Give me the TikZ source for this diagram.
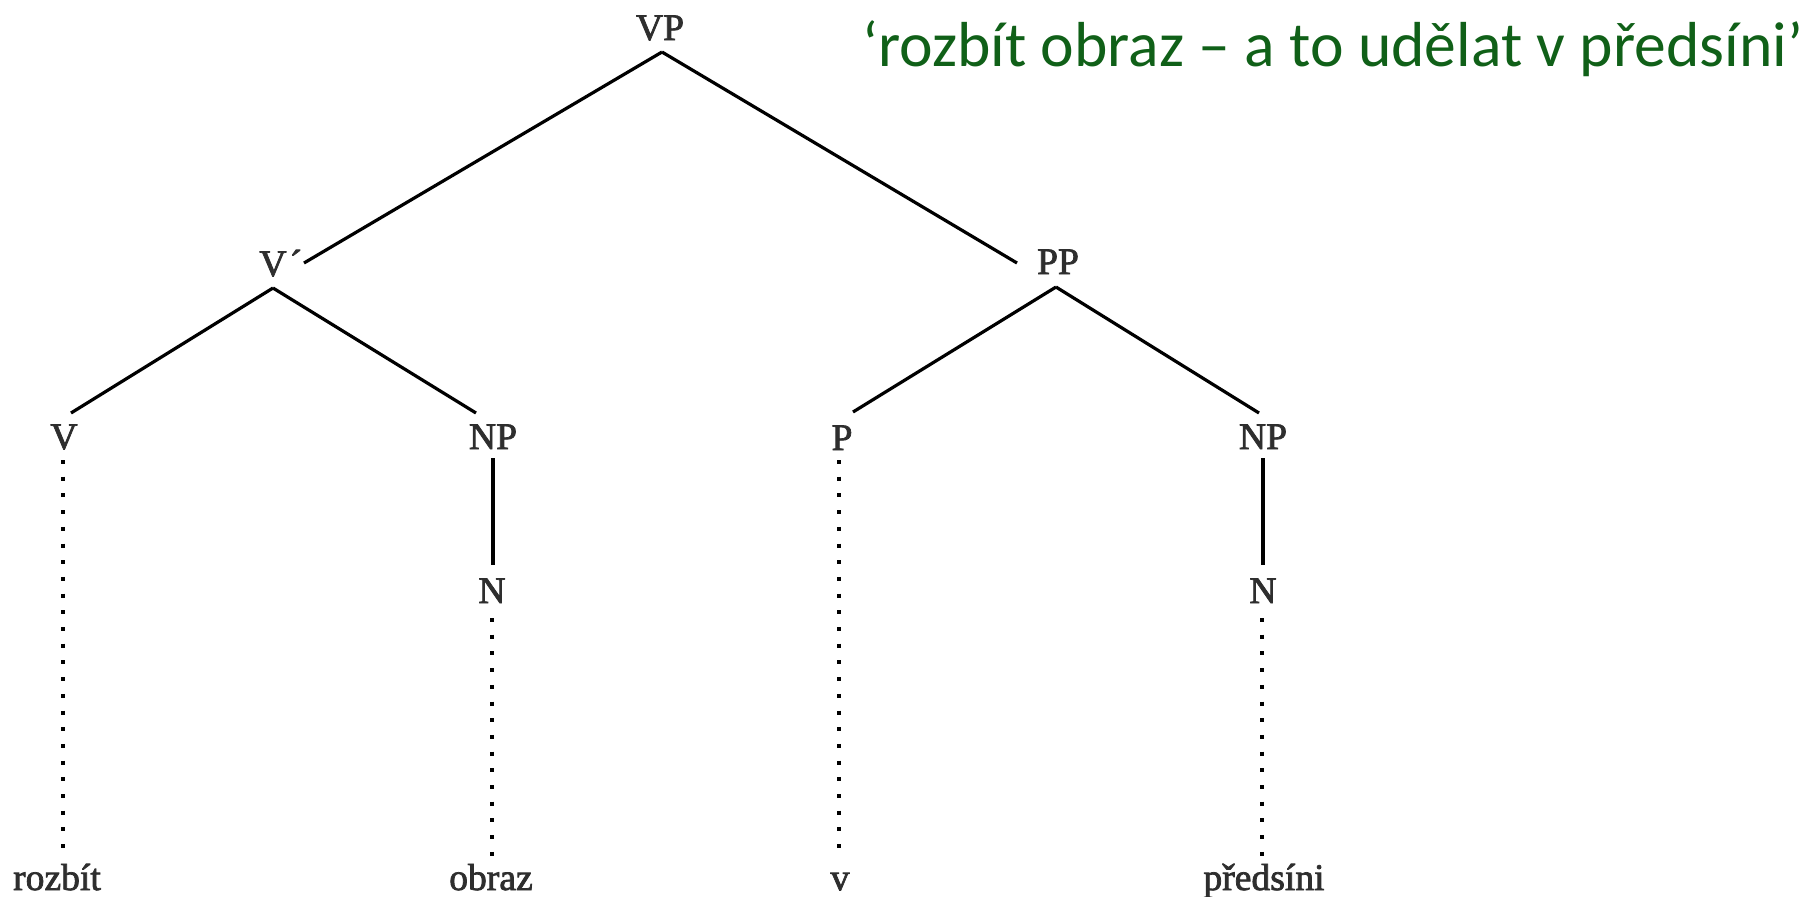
\documentclass[tikz,border=0pt]{standalone}
\usepackage{fontspec}
\setmainfont{Liberation Serif}
\newfontfamily\catfont{Liberation Serif}[FakeBold=2]
\newfontfamily\titlefont{Carlito}
\usetikzlibrary{calc}
\definecolor{labelgray}{HTML}{2E2E2E}
\definecolor{titlegreen}{RGB}{16,96,24}
\tikzset{
  cat/.style={inner sep=0pt, anchor=base, text=labelgray, font=\catfont\fontsize{18.8}{22}\selectfont},
  branch/.style={line width=1.6pt, black},
  dotline/.style={line width=1.7pt, black, dash pattern=on 2pt off 6.35pt},
}
\begin{document}
\begin{tikzpicture}[x=0.5pt, y=-0.5pt]
\useasboundingbox (0,0) rectangle (1812,896);
% nodes
\node[cat] (vp) at (660,40) {VP};
\node[cat, anchor=base west] (vbar) at (259,276) {V\kern1.5pt´};
\node[cat] (pp) at (1058,274) {PP};
\node[cat] (v) at (64,449) {V};
\node[cat] (np1) at (493,449) {NP};
\node[cat] (p) at (842,450) {P};
\node[cat] (np2) at (1263,449) {NP};
\node[cat] (n1) at (492,603) {N};
\node[cat] (n2) at (1263,603) {N};
\node[cat] (w1) at (57,890) {rozbít};
\node[cat] (w2) at (491,890) {obraz};
\node[cat] (w3) at (840,890) {v};
\node[cat] (w4) at (1264,890) {předsíni};
\node[inner sep=0pt, anchor=base west, text=titlegreen, font=\titlefont\fontsize{31.8}{36}\selectfont] (title) at (862,66) {‘rozbít obraz – a to udělat v předsíni’};
% branches
\draw[branch] ($(vp.base)+(2,12)$) -- ($(vbar.base west)+(45,-13)$);
\draw[branch] ($(vp.base)+(2,12)$) -- ($(pp.base)+(-41,-11)$);
\draw[branch] ($(vbar.base west)+(14,12)$) -- ($(v.base)+(7,-36)$);
\draw[branch] ($(vbar.base west)+(14,12)$) -- ($(np1.base)+(-17,-36)$);
\draw[branch] ($(pp.base)+(-2,13)$) -- ($(p.base)+(11,-38)$);
\draw[branch] ($(pp.base)+(-2,13)$) -- ($(np2.base)+(-4,-36)$);
\draw[branch] ($(np1.base)+(0,9)$) -- ($(n1.base)+(1,-38)$);
\draw[branch] ($(np2.base)+(0,9)$) -- ($(n2.base)+(0,-38)$);
% dotted terminal lines
\draw[dotline] ($(v.base)+(-1,11)$) -- ($(w1.base)+(6,-33)$);
\draw[dotline] ($(n1.base)+(0,15)$) -- ($(w2.base)+(1,-33)$);
\draw[dotline] ($(p.base)+(-3,10)$) -- ($(w3.base)+(-1,-33)$);
\draw[dotline] ($(n2.base)+(-1,15)$) -- ($(w4.base)+(-2,-33)$);
\end{tikzpicture}
\end{document}
